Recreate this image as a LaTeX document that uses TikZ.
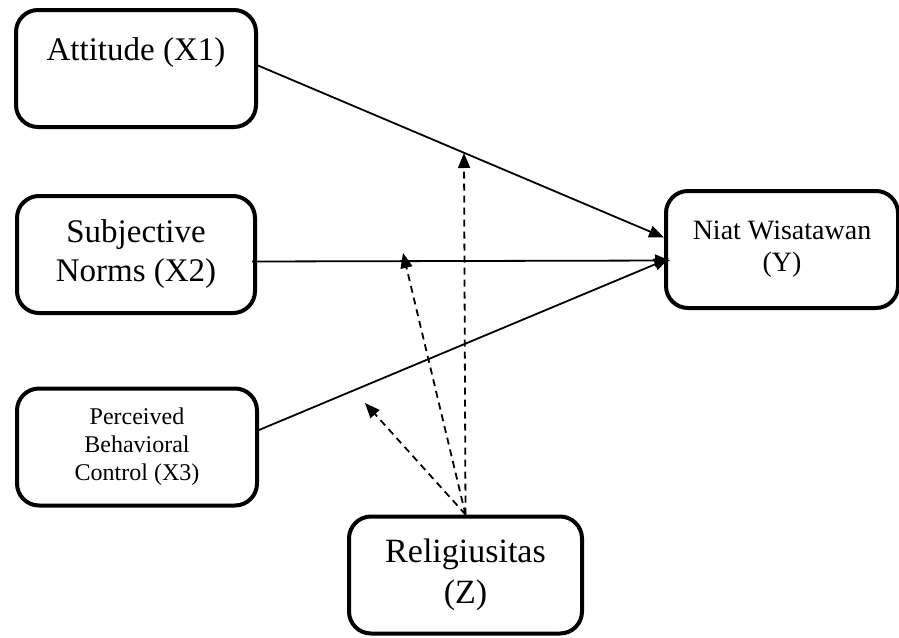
\documentclass[tikz,border=0pt]{standalone}
\usepackage{fontspec}
\setmainfont{Liberation Serif}
\usetikzlibrary{arrows.meta,positioning,calc}

\begin{document}
\begin{tikzpicture}[
  x=1pt, y=-1pt,
  box/.style={rectangle, rounded corners=22pt, draw=black, line width=4pt, align=center, minimum height=117pt, inner sep=0pt},
  arrow/.style={-{Triangle[length=15pt,width=12pt]}, line width=1.8pt},
  modarrow/.style={-{Triangle[length=15pt,width=12pt]}, line width=1.8pt, dash pattern=on 7pt off 5pt}
]
\useasboundingbox (0,0) rectangle (899,637);

\node[box, minimum width=240pt, font=\fontsize{33}{39}\selectfont] (x1) at (136,68.5) {Attitude (X1)\\\mbox{}};
\node[box, minimum width=238pt, font=\fontsize{33}{39}\selectfont] (x2) at (136,254.5) {Subjective\\Norms (X2)};
\node[box, minimum width=240pt, font=\fontsize{24}{28}\selectfont] (x3) at (137,447) {Perceived\\Behavioral\\Control (X3)};
\node[box, minimum width=232pt, font=\fontsize{28}{32}\selectfont] (y) at (782,249.5) {Niat Wisatawan\\(Y)};
\node[box, minimum width=233pt, font=\fontsize{34}{41}\selectfont] (z) at (465.5,575) {Religiusitas\\(Z)};

% ujung panah moderasi
\coordinate (m1) at (464,153);
\coordinate (m2) at (403,253);
\coordinate (m3) at (365,403);

\draw[arrow] ([yshift=3pt]x1.east) -- ([yshift=12pt]y.west);
\draw[arrow] ([xshift=-5pt,yshift=-7pt]x2.east) -- ([xshift=6pt,yshift=-11pt]y.west);
\draw[arrow] ([yshift=17pt]x3.east) -- ([xshift=5pt,yshift=-9pt]y.west);

\draw[modarrow] (z.north) -- (m1);
\draw[modarrow] (z.north) -- (m2);
\draw[modarrow] (z.north) -- (m3);
\end{tikzpicture}
\end{document}
